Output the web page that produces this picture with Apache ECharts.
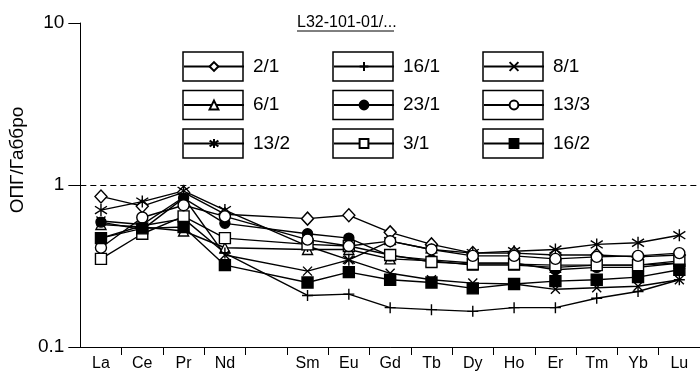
<!DOCTYPE html>
<html>
<head>
<meta charset="utf-8">
<script src="https://cdn.jsdelivr.net/npm/echarts@6/dist/echarts.min.js"></script>
<style>
html,body{margin:0;padding:0;background:#fff;}
#chart{width:700px;height:380px;}
</style>
</head>
<body>
<div id="chart"></div>
<script>
// ---- data ----
const categories = ['La','Ce','Pr','Nd','','Sm','Eu','Gd','Tb','Dy','Ho','Er','Tm','Yb','Lu'];
const yTicks = [0.1, 1, 10];
const titleText = 'L32-101-01/...';
const yName = 'ОПГ/Габбро';
const s2_1  = [0.85,0.74,0.90,0.66,null,0.62,0.65,0.51,0.43,0.38,0.38,0.37,0.37,0.36,0.37];
const s6_1  = [0.57,0.55,0.52,0.41,null,0.40,0.40,0.35,0.34,0.32,0.32,0.31,0.32,0.32,0.33];
const s13_2 = [0.70,0.79,0.92,0.70,null,0.42,0.345,0.45,0.40,0.38,0.39,0.40,0.43,0.44,0.49];
const s16_1 = [0.47,0.56,0.62,0.38,null,0.208,0.212,0.175,0.17,0.166,0.175,0.175,0.20,0.22,0.26];
const s23_1 = [0.59,0.53,0.83,0.58,null,0.50,0.47,0.365,0.345,0.33,0.33,0.30,0.31,0.31,0.33];
const s3_1  = [0.35,0.50,0.64,0.47,null,0.43,0.42,0.37,0.335,0.325,0.325,0.32,0.32,0.32,0.34];
const s8_1  = [0.60,0.57,0.84,0.37,null,0.294,0.345,0.285,0.26,0.248,0.245,0.227,0.232,0.237,0.26];
const s13_3 = [0.41,0.63,0.75,0.64,null,0.46,0.42,0.45,0.40,0.365,0.365,0.35,0.36,0.365,0.38];
const s16_2 = [0.47,0.54,0.55,0.32,null,0.25,0.29,0.26,0.25,0.23,0.245,0.255,0.26,0.27,0.30];
const seriesNames = ['2/1','6/1','13/2','16/1','23/1','3/1','8/1','13/3','16/2'];
const seriesData  = [s2_1, s6_1, s13_2, s16_1, s23_1, s3_1, s8_1, s13_3, s16_2];

// ---- styles ----
const FONT = 'Liberation Sans, Arial, sans-serif';
const PLUS = 'path://M5,0L5,10M0,5L10,5';
const CROSS = 'path://M0,0L10,10M10,0L0,10';
const STAR = 'path://M5,0L5,10M0.8,1.8L9.2,8.2M9.2,1.8L0.8,8.2';
const marks = {
  '2/1':  {symbol:'diamond',  size:[12,13], fill:'#fff'},
  '6/1':  {symbol:'triangle', size:10, fill:'#fff'},
  '13/2': {symbol:STAR,       size:12, fill:'#000'},
  '16/1': {symbol:PLUS,       size:11, fill:'#000'},
  '23/1': {symbol:'circle',   size:10, fill:'#000'},
  '3/1':  {symbol:'rect',     size:11, fill:'#fff'},
  '8/1':  {symbol:CROSS,      size:9,  fill:'#000'},
  '13/3': {symbol:'circle',   size:11, fill:'#fff'},
  '16/2': {symbol:'rect',     size:11, fill:'#000'}
};
// legend layout: column order
const legendCols = [['2/1','6/1','13/2'],['16/1','23/1','3/1'],['8/1','13/3','16/2']];
const colLeft = [183, 333, 483];
const rowCenter = [66.5, 105, 143.5];

const series = seriesNames.map((n, i) => ({
  name: n,
  type: 'line',
  data: seriesData[i],
  connectNulls: true,
  symbol: marks[n].symbol,
  symbolSize: marks[n].size,
  lineStyle: {color:'#000', width:1.4},
  itemStyle: {color: marks[n].fill, borderColor:'#000', borderWidth:1.4},
  emphasis: {disabled:true},
  z: 3
}));
series[0].markLine = {
  silent: true, symbol: 'none', label: {show:false},
  lineStyle: {color:'#000', type:[6,4], width:1},
  data: [{yAxis: 1}]
};

const legends = [];
const graphics = [];
legendCols.forEach((col, ci) => {
  col.forEach((n, ri) => {
    legends.push({
      data: [n], orient: 'vertical', padding: 0,
      left: colLeft[ci], top: rowCenter[ri] - 9.5,
      itemWidth: 60, itemHeight: 11, selectedMode: false,
      textStyle: {fontSize: 19, color: '#000', fontFamily: FONT, padding: [0,0,0,4]}
    });
    graphics.push({
      type: 'rect', silent: true,
      shape: {x: colLeft[ci], y: rowCenter[ri] - 14.5, width: 60, height: 29},
      style: {fill: 'none', stroke: '#000', lineWidth: 1.5}
    });
  });
});
graphics.push({
  type: 'line', silent: true,
  shape: {x1: 297, y1: 31, x2: 394, y2: 31},
  style: {stroke: '#000', lineWidth: 1}
});

const chart = echarts.init(document.getElementById('chart'), null, {renderer:'canvas'});
chart.setOption({
  animation: false,
  backgroundColor: '#fff',
  title: {
    text: titleText, left: 297, top: 15, padding: 0,
    textStyle: {fontSize: 16, fontWeight: 'normal', color: '#000', fontFamily: FONT}
  },
  legend: legends,
  graphic: graphics,
  grid: {left: 78, right: 0, top: 23, bottom: 33},
  xAxis: {
    type: 'category', data: categories, boundaryGap: true,
    axisLine: {lineStyle: {color:'#000', width:1}},
    axisTick: {show: true, length: 8, interval: (i) => i !== 0, lineStyle: {color:'#000'}},
    axisLabel: {interval: 0, color:'#000', fontSize: 16, fontFamily: FONT, margin: 9},
    splitLine: {show:false}
  },
  yAxis: {
    type: 'log', logBase: 10, min: yTicks[0], max: yTicks[yTicks.length-1],
    name: yName, nameLocation: 'middle', nameGap: 52,
    nameTextStyle: {fontSize: 19, color:'#000', fontFamily: FONT, padding:[0,0,0,50]},
    axisLine: {show:true, lineStyle: {color:'#000', width:1}},
    axisTick: {show:true, length: 12, lineStyle:{color:'#000'}},
    axisLabel: {color:'#000', fontSize: 19, fontFamily: FONT, margin: 16,
      formatter: v => String(v)},
    splitLine: {show:false}
  },
  series: series
});
</script>
</body>
</html>
